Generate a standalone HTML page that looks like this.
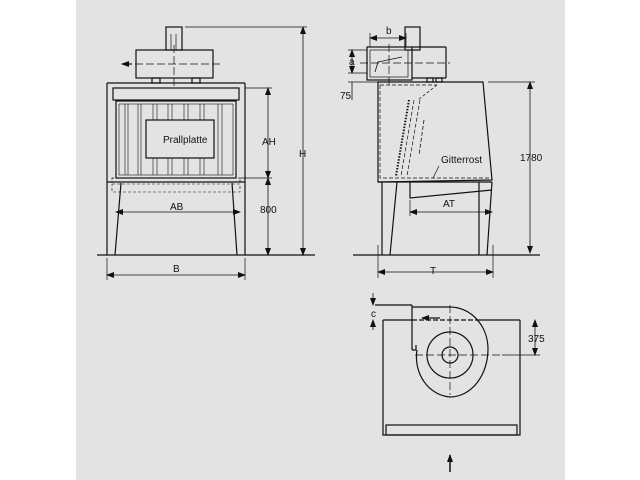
<!DOCTYPE html>
<html><head><meta charset="utf-8"><style>
html,body{margin:0;padding:0;background:#fff;}
svg{display:block;}
text{font-family:"Liberation Sans",sans-serif;font-size:10px;fill:#111;}
</style></head><body>
<svg width="640" height="480" viewBox="0 0 640 480" xmlns="http://www.w3.org/2000/svg">
<defs>
<marker id="ar" markerWidth="8" markerHeight="6" refX="7" refY="3" orient="auto" markerUnits="userSpaceOnUse"><path d="M0,0 L8,3 L0,6 z" fill="#111"/></marker>
<marker id="al" markerWidth="8" markerHeight="6" refX="1" refY="3" orient="auto" markerUnits="userSpaceOnUse"><path d="M8,0 L0,3 L8,6 z" fill="#111"/></marker>
</defs>
<rect x="76" y="0" width="489" height="480" fill="#e3e3e3"/>
<g stroke="#111" fill="none" stroke-width="1.2">
<!-- LEFT VIEW -->
<rect x="166" y="27" width="16" height="23"/>
<line x1="171" y1="34" x2="171" y2="50" stroke-width="0.7"/><line x1="176" y1="34" x2="176" y2="50" stroke-width="0.7"/>
<rect x="136" y="50" width="77" height="28"/>
<line x1="124" y1="64" x2="220" y2="64" stroke-dasharray="8,3" stroke-width="0.8"/>
<line x1="132" y1="64" x2="122" y2="64" marker-end="url(#ar)"/>
<line x1="174" y1="45" x2="174" y2="88" stroke-dasharray="8,3" stroke-width="0.7"/>
<rect x="152" y="78" width="8" height="5"/><rect x="192" y="78" width="8" height="5"/>
<line x1="107" y1="83" x2="245" y2="83"/>
<line x1="107" y1="83" x2="107" y2="255"/><line x1="245" y1="83" x2="245" y2="255"/>
<rect x="113" y="88" width="126" height="12"/>
<rect x="116" y="101" width="120" height="77"/>
<rect x="119" y="104" width="114" height="71" stroke-width="0.6"/>
<g stroke-width="0.6">
<line x1="125" y1="104" x2="125" y2="175"/><line x1="128" y1="104" x2="128" y2="175"/>
<line x1="138" y1="104" x2="138" y2="175"/><line x1="141" y1="104" x2="141" y2="175"/>
<line x1="153" y1="104" x2="153" y2="175"/><line x1="157" y1="104" x2="157" y2="175"/>
<line x1="168" y1="104" x2="168" y2="175"/><line x1="172" y1="104" x2="172" y2="175"/>
<line x1="184" y1="104" x2="184" y2="175"/><line x1="188" y1="104" x2="188" y2="175"/>
<line x1="200" y1="104" x2="200" y2="175"/><line x1="204" y1="104" x2="204" y2="175"/>
<line x1="218" y1="104" x2="218" y2="175"/><line x1="222" y1="104" x2="222" y2="175"/>
</g>
<rect x="146" y="120" width="68" height="38" fill="#e3e3e3"/>
<rect x="112" y="178" width="128" height="4" stroke-dasharray="2,1.5" stroke-width="0.8"/>
<line x1="107" y1="182" x2="245" y2="182"/>
<rect x="112" y="184" width="128" height="8" stroke-dasharray="3,2" stroke-width="0.6"/>
<line x1="121" y1="183" x2="115" y2="255"/><line x1="232" y1="183" x2="237" y2="255"/>
<line x1="97" y1="255" x2="315" y2="255"/>
<line x1="116" y1="212" x2="240" y2="212" stroke-width="0.8" marker-start="url(#al)" marker-end="url(#ar)"/>
<line x1="245" y1="88" x2="272" y2="88" stroke-width="0.7"/>
<line x1="240" y1="178" x2="272" y2="178" stroke-width="0.7"/>
<line x1="268" y1="88" x2="268" y2="178" stroke-width="0.8" marker-start="url(#al)" marker-end="url(#ar)"/>
<line x1="268" y1="178" x2="268" y2="255" stroke-width="0.8" marker-start="url(#al)" marker-end="url(#ar)"/>
<line x1="185" y1="27" x2="307" y2="27" stroke-width="0.7"/>
<line x1="303" y1="27" x2="303" y2="255" stroke-width="0.8" marker-start="url(#al)" marker-end="url(#ar)"/>
<line x1="107" y1="258" x2="107" y2="280" stroke-width="0.7"/><line x1="245" y1="258" x2="245" y2="280" stroke-width="0.7"/>
<line x1="107" y1="275" x2="245" y2="275" stroke-width="0.8" marker-start="url(#al)" marker-end="url(#ar)"/>
<!-- RIGHT VIEW -->
<rect x="405" y="27" width="15" height="23"/>
<rect x="367" y="47" width="45" height="33"/>
<rect x="370" y="50" width="38" height="27" stroke-width="0.7"/>
<polyline points="375,72 378,62 402,57" stroke-width="0.8"/>
<line x1="412" y1="47" x2="446" y2="47"/><line x1="446" y1="47" x2="446" y2="78"/><line x1="412" y1="78" x2="446" y2="78"/>
<line x1="360" y1="63" x2="450" y2="63" stroke-dasharray="8,3" stroke-width="0.7"/>
<line x1="389" y1="44" x2="389" y2="85" stroke-dasharray="8,3" stroke-width="0.7"/>
<line x1="370" y1="33" x2="370" y2="47" stroke-width="0.7"/><line x1="406" y1="33" x2="406" y2="47" stroke-width="0.7"/>
<line x1="370" y1="38" x2="406" y2="38" stroke-width="0.8" marker-start="url(#al)" marker-end="url(#ar)"/>
<line x1="348" y1="50" x2="367" y2="50" stroke-width="0.7"/><line x1="348" y1="73" x2="367" y2="73" stroke-width="0.7"/>
<line x1="352" y1="50" x2="352" y2="73" stroke-width="0.8" marker-start="url(#al)" marker-end="url(#ar)"/>
<line x1="348" y1="82" x2="378" y2="82" stroke-width="0.7"/>
<line x1="352" y1="82" x2="352" y2="100" stroke-width="0.8"/>
<rect x="427" y="78" width="6" height="4"/><rect x="436" y="78" width="6" height="4"/>
<polygon points="378,82 483,82 492,180 378,182"/>
<polyline points="380,85 437,85" stroke-dasharray="4,2" stroke-width="0.7"/>
<line x1="437" y1="85" x2="418" y2="100" stroke-dasharray="3,2" stroke-width="0.7"/>
<polyline points="380,85 380,178 490,178" stroke-dasharray="4,2" stroke-width="0.7"/>
<line x1="409" y1="100" x2="396" y2="176" stroke-dasharray="1.5,1.5" stroke-width="2"/>
<line x1="414" y1="100" x2="401" y2="176" stroke-dasharray="4,2" stroke-width="0.7"/>
<line x1="420" y1="100" x2="407" y2="176" stroke-dasharray="4,2" stroke-width="0.7"/>
<line x1="424" y1="120" x2="419" y2="155" stroke-dasharray="4,2" stroke-width="0.8"/>
<line x1="439" y1="166" x2="433" y2="178" stroke-width="0.7"/>
<line x1="378" y1="182" x2="492" y2="182"/>
<line x1="382" y1="182" x2="382" y2="255"/><line x1="397" y1="182" x2="390" y2="255"/>
<line x1="479" y1="182" x2="479" y2="255"/><line x1="492" y1="182" x2="487" y2="255"/>
<polyline points="410,182 410,198 492,190"/>
<line x1="410" y1="200" x2="410" y2="216" stroke-width="0.7"/>
<line x1="410" y1="212" x2="492" y2="212" stroke-width="0.8" marker-start="url(#al)" marker-end="url(#ar)"/>
<line x1="488" y1="82" x2="535" y2="82" stroke-width="0.7"/>
<line x1="530" y1="82" x2="530" y2="253" stroke-width="0.8" marker-start="url(#al)" marker-end="url(#ar)"/>
<line x1="353" y1="255" x2="540" y2="255"/>
<line x1="378" y1="245" x2="378" y2="278" stroke-width="0.7"/><line x1="493" y1="245" x2="493" y2="278" stroke-width="0.7"/>
<line x1="378" y1="272" x2="493" y2="272" stroke-width="0.8" marker-start="url(#al)" marker-end="url(#ar)"/>
<!-- BOTTOM VIEW -->
<polyline points="383,320 383,435 520,435 520,320"/>
<line x1="383" y1="320" x2="412" y2="320"/>
<line x1="478" y1="320" x2="520" y2="320"/>
<line x1="412" y1="320" x2="478" y2="320" stroke-dasharray="5,2"/>
<rect x="386" y="425" width="131" height="10"/>
<line x1="375" y1="305" x2="412" y2="305"/>
<line x1="412" y1="305" x2="412" y2="350"/>
<polyline points="412,350 416,350 416,345"/>
<path d="M412,307 L450,307 A38,42 0 0 1 488,349 A38,48 0 0 1 450,397 A36,40 0 0 1 417,350"/>
<circle cx="450" cy="355" r="23"/>
<circle cx="450" cy="355" r="8"/>
<line x1="450" y1="305" x2="450" y2="395" stroke-dasharray="8,3" stroke-width="0.7"/>
<line x1="415" y1="355" x2="500" y2="355" stroke-dasharray="8,3" stroke-width="0.7"/>
<line x1="502" y1="355" x2="540" y2="355" stroke-width="0.7"/>
<line x1="440" y1="318" x2="422" y2="318" marker-end="url(#ar)"/>
<line x1="535" y1="320" x2="535" y2="355" stroke-width="0.8" marker-start="url(#al)" marker-end="url(#ar)"/>
<line x1="373" y1="293" x2="373" y2="305" stroke-width="0.8" marker-end="url(#ar)"/>
<line x1="373" y1="330" x2="373" y2="320" stroke-width="0.8" marker-end="url(#ar)"/>
<line x1="450" y1="472" x2="450" y2="455" stroke-width="1.5" marker-end="url(#ar)"/>
</g>
<text x="163" y="143" font-size="8.5">Prallplatte</text>
<text x="262" y="145">AH</text>
<text x="260" y="213">800</text>
<text x="299" y="157">H</text>
<text x="170" y="210">AB</text>
<text x="173" y="272">B</text>
<text x="386" y="34">b</text>
<text x="349" y="65">a</text>
<text x="340" y="99">75</text>
<text x="441" y="163" font-size="8.5">Gitterrost</text>
<text x="443" y="207">AT</text>
<text x="520" y="161">1780</text>
<text x="430" y="274">T</text>
<text x="528" y="342">375</text>
<text x="371" y="317">c</text>
</svg>
</body></html>
